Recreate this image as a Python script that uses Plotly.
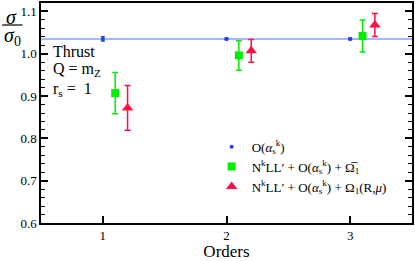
import plotly.graph_objects as go

orders = [1, 2, 3]
fixed_vals = [1.035, 1.035, 1.035]
fixed_err = [0.005, 0.002, 0.002]

nkll_x = [1.1, 2.1, 3.1]
nkll_vals = [0.907, 0.996, 1.042]
nkll_err = [0.049, 0.035, 0.038]

omega_x = [1.2, 2.2, 3.2]
omega_vals = [0.872, 1.007, 1.068]
omega_err = [0.053, 0.027, 0.027]

tick_vals = [1, 2, 3]
tick_text = ["1", "2", "3"]

FONT = "Liberation Serif"
BLUE = "#2040f0"
BLUE_LINE = "#a8b8ff"
GREEN = "#00ee00"
RED = "#ff1040"

fig = go.Figure()

fig.add_shape(type="line", xref="paper", x0=0, x1=1, yref="y",
              y0=fixed_vals[0], y1=fixed_vals[0],
              line=dict(color=BLUE_LINE, width=2), layer="below")

fig.add_trace(go.Scatter(
    x=orders, y=fixed_vals, mode="markers",
    marker=dict(color=BLUE, size=4, symbol="circle"),
    error_y=dict(type="data", array=fixed_err, color=BLUE, thickness=1.5, width=2),
    name="O(<i>α</i><sub>s</sub><sup>k</sup>)"))

fig.add_trace(go.Scatter(
    x=nkll_x, y=nkll_vals, mode="markers",
    marker=dict(color=GREEN, size=8, symbol="square"),
    error_y=dict(type="data", array=nkll_err, color=GREEN, thickness=1.5, width=3),
    name="N<sup>k</sup>LL′ + O(<i>α</i><sub>s</sub><sup>k</sup>) + Ω̅<sub>1</sub>"))

fig.add_trace(go.Scatter(
    x=omega_x, y=omega_vals, mode="markers",
    marker=dict(color=RED, size=10, symbol="triangle-up"),
    error_y=dict(type="data", array=omega_err, color=RED, thickness=1.5, width=3),
    name="N<sup>k</sup>LL′ + O(<i>α</i><sub>s</sub><sup>k</sup>) + Ω<sub>1</sub>(R,<i>μ</i>)"))

# y-axis label as a fraction
fig.add_annotation(text="<i>σ</i>", xref="paper", yref="paper", x=-0.08, y=0.938,
                   showarrow=False, font=dict(family=FONT, size=20, color="black"),
                   xanchor="center", yanchor="middle")
fig.add_annotation(text="<i>σ</i><sub>0</sub>", xref="paper", yref="paper", x=-0.078, y=0.848,
                   showarrow=False, font=dict(family=FONT, size=20, color="black"),
                   xanchor="center", yanchor="middle")
fig.add_shape(type="line", xref="paper", yref="paper", x0=-0.105, x1=-0.05,
              y0=0.900, y1=0.900, line=dict(color="black", width=1.2))

for txt, yy in [("Thrust", 0.779), ("Q = m<sub>Z</sub>", 0.697), ("r<sub>s</sub> =  1", 0.606)]:
    fig.add_annotation(text=txt, xref="paper", yref="paper", x=0.028, y=yy,
                       showarrow=False, xanchor="left", yanchor="middle",
                       font=dict(family=FONT, size=16, color="black"))

fig.update_layout(
    width=415, height=261,
    margin=dict(l=41, r=2, t=1, b=29),
    plot_bgcolor="white", paper_bgcolor="white",
    font=dict(family=FONT, size=13, color="black"),
    showlegend=True,
    legend=dict(x=0.46, y=0.415, xanchor="left", yanchor="top",
                bgcolor="rgba(0,0,0,0)", font=dict(family=FONT, size=13),
                tracegroupgap=0, itemwidth=30),
    xaxis=dict(range=[0.5, 3.5], tickvals=tick_vals, ticktext=tick_text,
               ticks="inside", ticklen=7, tickwidth=1.5, tickcolor="black",
               showline=True, linecolor="black", linewidth=1.5, mirror=True,
               showgrid=False, zeroline=False,
               title=dict(text="Orders", font=dict(family=FONT, size=17), standoff=5),
               tickfont=dict(family=FONT, size=13)),
    yaxis=dict(range=[0.6, 1.12], dtick=0.1, tick0=0.6, tickformat=".1f",
               ticks="inside", ticklen=7, tickwidth=1.5, tickcolor="black",
               minor=dict(dtick=0.02, ticks="inside", ticklen=4, tickwidth=1.2, tickcolor="black"),
               showline=True, linecolor="black", linewidth=1.5, mirror="ticks",
               showgrid=False, zeroline=False,
               tickfont=dict(family=FONT, size=13)),
)

fig.write_html("out.html", config={"displayModeBar": False},
               post_script="document.body.style.margin='0px';")
